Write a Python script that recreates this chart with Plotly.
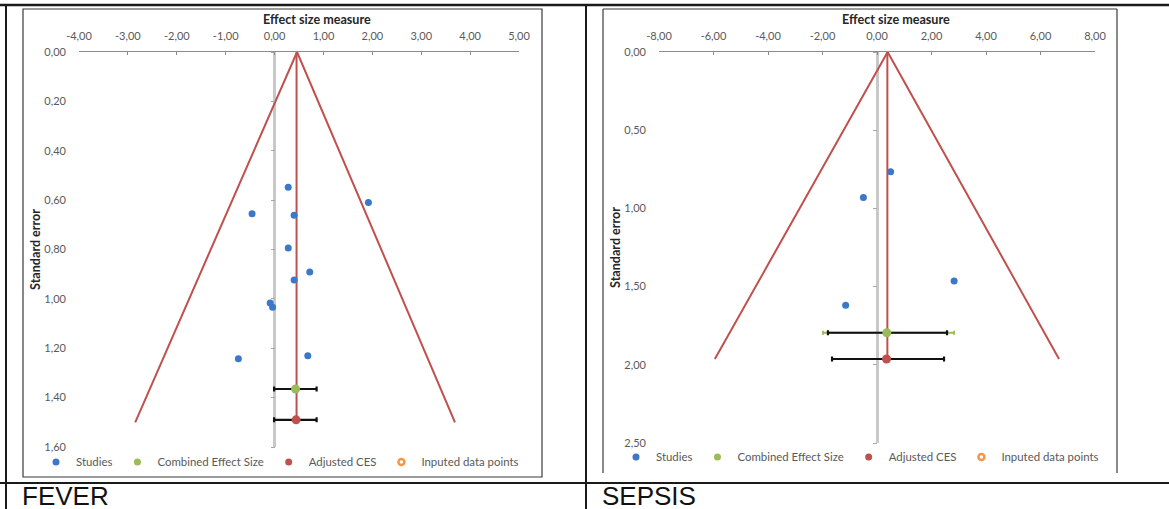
import plotly.graph_objects as go

# ---------------- data ----------------
fever_xticks = [-4, -3, -2, -1, 0, 1, 2, 3, 4, 5]
fever_yticks = [0.0, 0.2, 0.4, 0.6, 0.8, 1.0, 1.2, 1.4, 1.6]
fever_study_effect = [0.28, 1.92, -0.46, 0.40, 0.28, 0.72, 0.40, -0.09, -0.04, -0.74, 0.68]
fever_study_se = [0.548, 0.610, 0.655, 0.661, 0.794, 0.891, 0.924, 1.017, 1.034, 1.243, 1.230]
fever_funnel_effect = [-2.85, 0.46, 3.69]
fever_funnel_se = [1.50, 0.00, 1.50]
fever_mid_effect = [0.45, 0.45]
fever_mid_se = [0.00, 1.49]
fever_ces = [0.43]
fever_ces_se = [1.365]
fever_ces_ci = [-0.01, 0.86]
fever_adj = [0.44]
fever_adj_se = [1.49]
fever_adj_ci = [-0.01, 0.86]

sepsis_xticks = [-8, -6, -4, -2, 0, 2, 4, 6, 8]
sepsis_yticks = [0.0, 0.5, 1.0, 1.5, 2.0, 2.5]
sepsis_study_effect = [0.50, -0.50, 2.83, -1.15]
sepsis_study_se = [0.765, 0.930, 1.464, 1.620]
sepsis_funnel_effect = [-5.95, 0.39, 6.68]
sepsis_funnel_se = [1.963, 0.00, 1.963]
sepsis_mid_effect = [0.38, 0.38]
sepsis_mid_se = [0.00, 1.963]
sepsis_ces = [0.36]
sepsis_ces_se = [1.795]
sepsis_ces_ci = [-1.80, 2.57]
sepsis_ces_ci_green = [-1.98, 2.83]
sepsis_adj = [0.35]
sepsis_adj_se = [1.963]
sepsis_adj_ci = [-1.65, 2.46]

panel_labels = ["FEVER", "SEPSIS"]
legend_names = ["Studies", "Combined Effect Size", "Adjusted CES", "Inputed data points"]

# ---------------- style ----------------
W, H = 1169, 509
BLUE, GREEN, RED, ORANGE = "#3C78C8", "#9BBB59", "#C0504D", "#F79646"
GREY_TXT = "#595959"
FONT = "Lato"


def px(x):
    return x / W


def py(y):
    return 1 - y / H


def fmt(v):
    return f"{v:.2f}".replace(".", ",")


fig = go.Figure()


def add_panel(xa, ya, yov, leg, funnel_x, funnel_y, mid_x, mid_y, st_x, st_y,
              ces, ces_se, ces_ci, adj, adj_se, adj_ci, green_ci=None):
    xr = dict(xaxis=xa, yaxis=ya)
    fig.add_trace(go.Scatter(x=funnel_x, y=funnel_y, mode="lines",
                             line=dict(color=RED, width=2), showlegend=False,
                             hoverinfo="skip", **xr))
    fig.add_trace(go.Scatter(x=mid_x, y=mid_y, mode="lines",
                             line=dict(color=RED, width=2), showlegend=False,
                             hoverinfo="skip", **xr))
    if green_ci is not None:
        fig.add_trace(go.Scatter(
            x=ces, y=ces_se, mode="markers",
            marker=dict(size=2, color="rgba(0,0,0,0)"), showlegend=False,
            error_x=dict(type="data", symmetric=False,
                         array=[green_ci[1] - ces[0]], arrayminus=[ces[0] - green_ci[0]],
                         color=GREEN, thickness=2, width=2),
            **xr))
    fig.add_trace(go.Scatter(
        x=adj, y=adj_se, mode="markers", name=legend_names[2], legend=leg,
        marker=dict(size=9, color=RED), showlegend=False,
        error_x=dict(type="data", symmetric=False,
                     array=[adj_ci[1] - adj[0]], arrayminus=[adj[0] - adj_ci[0]],
                     color="#111111", thickness=2.2, width=2.5),
        **xr))
    fig.add_trace(go.Scatter(
        x=ces, y=ces_se, mode="markers", name=legend_names[1], legend=leg,
        marker=dict(size=9, color=GREEN), showlegend=False,
        error_x=dict(type="data", symmetric=False,
                     array=[ces_ci[1] - ces[0]], arrayminus=[ces[0] - ces_ci[0]],
                     color="#111111", thickness=2.2, width=2.5),
        **xr))
    # legend entries (in Excel order)
    fig.add_trace(go.Scatter(x=st_x, y=st_y, mode="markers", name=legend_names[0],
                             legend=leg, marker=dict(size=7, color=BLUE), **xr))
    fig.add_trace(go.Scatter(x=[None], y=[None], mode="markers", name=legend_names[1],
                             legend=leg, marker=dict(size=7, color=GREEN), **xr))
    fig.add_trace(go.Scatter(x=[None], y=[None], mode="markers", name=legend_names[2],
                             legend=leg, marker=dict(size=7, color=RED), **xr))
    fig.add_trace(go.Scatter(x=[None], y=[None], mode="markers", name=legend_names[3],
                             legend=leg, xaxis=xa, yaxis=yov,
                             marker=dict(size=6, color=ORANGE, symbol="circle-open",
                                         line=dict(color=ORANGE, width=2.5))))


add_panel("x", "y", "y3", "legend", fever_funnel_effect, fever_funnel_se,
          fever_mid_effect, fever_mid_se, fever_study_effect, fever_study_se,
          fever_ces, fever_ces_se, fever_ces_ci, fever_adj, fever_adj_se, fever_adj_ci)
add_panel("x2", "y2", "y4", "legend2", sepsis_funnel_effect, sepsis_funnel_se,
          sepsis_mid_effect, sepsis_mid_se, sepsis_study_effect, sepsis_study_se,
          sepsis_ces, sepsis_ces_se, sepsis_ces_ci, sepsis_adj, sepsis_adj_se, sepsis_adj_ci,
          green_ci=sepsis_ces_ci_green)

tickfont = dict(family=FONT, size=11, color=GREY_TXT)
axis_title_font = dict(family=FONT, size=12.6, color="#262626")


def xaxis_cfg(dom, ticks, anchor):
    return dict(domain=dom, range=[ticks[0], ticks[-1]], side="top", anchor=anchor,
                showline=True, linecolor="#8C8C8C", linewidth=1,
                ticks="inside", ticklen=3, tickcolor="#8C8C8C",
                tickvals=ticks, ticktext=[fmt(v) for v in ticks],
                tickfont=tickfont, ticklabelstandoff=7, automargin=False,
                showgrid=False, zeroline=True, zerolinecolor="#C8C8C8",
                zerolinewidth=2.5, fixedrange=True)


def yaxis_cfg(dom, ticks, anchor):
    return dict(domain=dom, range=[ticks[-1], ticks[0]], anchor=anchor,
                showline=False, ticks="", tickvals=ticks, ticktext=[fmt(v) for v in ticks],
                tickfont=tickfont, ticklabelstandoff=12, automargin=False,
                title=dict(text="<b>Standard error</b>", standoff=0, font=axis_title_font),
                showgrid=False, zeroline=False, fixedrange=True)


def yline_cfg(dom_x, xticks, yticks, over):
    pos = dom_x[0] + (0 - xticks[0]) / (xticks[-1] - xticks[0]) * (dom_x[1] - dom_x[0])
    return dict(overlaying=over, anchor="free", position=pos,
                range=[yticks[-1], yticks[0]], showline=False,
                ticks="outside", ticklen=4, tickcolor="#A8A8A8",
                tickvals=yticks, showticklabels=False, showgrid=False,
                zeroline=False, automargin=False, fixedrange=True)


fx_dom = [px(79), px(519)]
fy_dom = [py(447), py(52)]
sx_dom = [px(659), px(1095)]
sy_dom = [py(443), py(52)]

legend_common = dict(orientation="h", yanchor="middle", xanchor="left",
                     bgcolor="rgba(0,0,0,0)", itemwidth=30,
                     font=dict(family=FONT, size=11.4, color=GREY_TXT))

fig.update_layout(
    width=W, height=H, margin=dict(l=0, r=0, t=0, b=0, pad=0, autoexpand=False),
    paper_bgcolor="white", plot_bgcolor="rgba(0,0,0,0)",
    separators=",.",
    xaxis=xaxis_cfg(fx_dom, fever_xticks, "y"),
    yaxis=yaxis_cfg(fy_dom, fever_yticks, "x"),
    yaxis3=yline_cfg(fx_dom, fever_xticks, fever_yticks, "y"),
    xaxis2=xaxis_cfg(sx_dom, sepsis_xticks, "y2"),
    yaxis2=yaxis_cfg(sy_dom, sepsis_yticks, "x2"),
    yaxis4=yline_cfg(sx_dom, sepsis_xticks, sepsis_yticks, "y2"),
    legend=dict(x=px(36), y=py(462), **legend_common),
    legend2=dict(x=px(616), y=py(457), **legend_common),
)

for xpx in [317, 896]:
    fig.add_annotation(text="<b>Effect size measure</b>", xref="paper", yref="paper",
                       x=px(xpx), y=py(20), xanchor="center", yanchor="middle",
                       showarrow=False, font=axis_title_font)

label_font = dict(family="Liberation Sans", size=26, color="#111111")
for text, xpx in zip(panel_labels, [20, 600]):
    fig.add_annotation(text=text, xref="paper", yref="paper", x=px(xpx), y=py(496),
                       xanchor="left", yanchor="middle", showarrow=False, font=label_font)


# table grid and chart frames
def line(x0, y0, x1, y1, color="#1a1a1a", width=2):
    fig.add_shape(type="line", xref="paper", yref="paper",
                  x0=px(x0), y0=py(y0), x1=px(x1), y1=py(y1),
                  line=dict(color=color, width=width))


line(0, 5, W, 5, width=2.5)
line(6, 5, 6, H, width=2)
line(586, 5, 586, H, width=2)
line(0, 483, W, 483, width=2)
# FEVER chart frame
fig.add_shape(type="rect", xref="paper", yref="paper", x0=px(23), x1=px(542),
              y0=py(477), y1=py(9), line=dict(color="#3a3a3a", width=1.2))
# SEPSIS chart frame (bottom edge cut off)
line(603, 9, 1117, 9, color="#3a3a3a", width=1.2)
line(603, 9, 603, 473, color="#3a3a3a", width=1.2)
line(1117, 9, 1117, 473, color="#3a3a3a", width=1.2)

fig.write_html(
    "out.html",
    config={"displayModeBar": False},
    post_script="document.documentElement.style.margin='0';"
                "document.body.style.margin='0';document.body.style.overflow='hidden';",
)
